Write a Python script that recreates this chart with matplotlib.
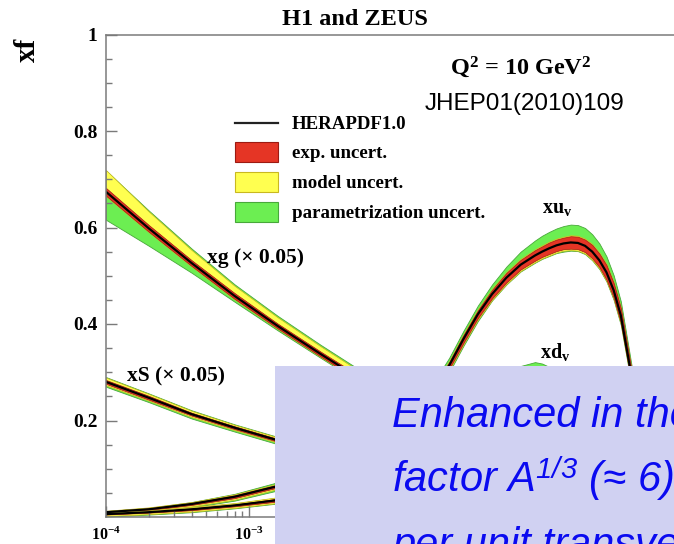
import numpy as np
import matplotlib
matplotlib.use("Agg")
import matplotlib.pyplot as plt
from matplotlib.patches import Rectangle
from matplotlib.lines import Line2D

plt.rcParams["mathtext.fontset"] = "custom"
plt.rcParams["mathtext.rm"] = "Liberation Serif:bold"
plt.rcParams["mathtext.bf"] = "Liberation Serif:bold"
plt.rcParams["mathtext.it"] = "Liberation Serif:italic:bold"
plt.rcParams["mathtext.sf"] = "Liberation Sans:italic"

W, H = 674, 544

# ---------------------------------------------------------------- data
# log10(x) grid for the gluon and sea curves
sea_log10_x = [-4.0, -3.7, -3.4, -3.1, -2.8, -2.5, -2.2, -1.9, -1.6, -1.5, -1.4,
               -1.3, -1.2, -1.1, -1.0, -0.9, -0.8, -0.7, -0.6, -0.5, -0.45, -0.4,
               -0.35, -0.3, -0.2, -0.1, 0.0]

# xg (x 0.05)
xg_c = [0.674, 0.598, 0.526, 0.458, 0.396, 0.338, 0.282, 0.228, 0.180, 0.166, 0.152,
        0.138, 0.122, 0.109, 0.096, 0.083, 0.070, 0.059, 0.048, 0.038, 0.034, 0.030,
        0.026, 0.022, 0.015, 0.009, 0.005]
xg_exp = [0.008, 0.007, 0.006, 0.006, 0.005, 0.005, 0.005, 0.005, 0.005, 0.005, 0.005,
          0.005, 0.005, 0.005, 0.005, 0.005, 0.004, 0.004, 0.004, 0.003, 0.003, 0.003,
          0.003, 0.002, 0.002, 0.002, 0.002]
xg_mod_up = [0.045, 0.035, 0.027, 0.021, 0.018, 0.016, 0.015, 0.014, 0.013, 0.013, 0.012,
             0.012, 0.011, 0.011, 0.010, 0.010, 0.009, 0.008, 0.007, 0.006, 0.006, 0.005,
             0.005, 0.004, 0.004, 0.003, 0.003]
xg_mod_dn = [0.009, 0.008, 0.007, 0.007, 0.006, 0.006, 0.006, 0.006, 0.006, 0.006, 0.006,
             0.006, 0.006, 0.006, 0.006, 0.006, 0.005, 0.005, 0.005, 0.004, 0.004, 0.004,
             0.004, 0.003, 0.003, 0.003, 0.003]
xg_par_up = [0.044, 0.037, 0.030, 0.024, 0.021, 0.019, 0.018, 0.017, 0.016, 0.016, 0.015,
             0.015, 0.014, 0.014, 0.013, 0.013, 0.012, 0.011, 0.010, 0.009, 0.009, 0.008,
             0.008, 0.007, 0.007, 0.006, 0.006]
xg_par_dn = [0.058, 0.036, 0.020, 0.012, 0.009, 0.008, 0.008, 0.008, 0.008, 0.008, 0.008,
             0.008, 0.008, 0.008, 0.008, 0.008, 0.007, 0.007, 0.007, 0.006, 0.006, 0.006,
             0.006, 0.005, 0.005, 0.005, 0.005]

# xS (x 0.05)
xs_c = [0.280, 0.247, 0.213, 0.185, 0.159, 0.135, 0.112, 0.092, 0.072, 0.066, 0.060,
        0.054, 0.048, 0.042, 0.037, 0.032, 0.027, 0.022, 0.018, 0.013, 0.011, 0.010,
        0.008, 0.007, 0.004, 0.002, 0.001]
xs_exp = [0.004, 0.004, 0.003, 0.003, 0.003, 0.003, 0.003, 0.002, 0.002, 0.002, 0.002,
          0.002, 0.002, 0.002, 0.002, 0.002, 0.002, 0.001, 0.001, 0.001, 0.001, 0.001,
          0.001, 0.001, 0.001, 0.001, 0.001]
xs_mod_up = [0.009, 0.008, 0.007, 0.006, 0.006, 0.005, 0.005, 0.004, 0.004, 0.004, 0.004,
             0.003, 0.003, 0.003, 0.003, 0.003, 0.003, 0.002, 0.002, 0.002, 0.002, 0.002,
             0.002, 0.002, 0.001, 0.001, 0.001]
xs_mod_dn = [0.007, 0.006, 0.006, 0.005, 0.005, 0.004, 0.004, 0.004, 0.003, 0.003, 0.003,
             0.003, 0.003, 0.003, 0.003, 0.002, 0.002, 0.002, 0.002, 0.002, 0.002, 0.002,
             0.002, 0.001, 0.001, 0.001, 0.001]
xs_par_up = [0.010, 0.009, 0.008, 0.007, 0.007, 0.006, 0.006, 0.005, 0.005, 0.005, 0.005,
             0.004, 0.004, 0.004, 0.004, 0.004, 0.004, 0.003, 0.003, 0.003, 0.003, 0.003,
             0.003, 0.003, 0.002, 0.002, 0.002]
xs_par_dn = [0.010, 0.009, 0.009, 0.008, 0.008, 0.007, 0.007, 0.007, 0.006, 0.006, 0.006,
             0.006, 0.006, 0.006, 0.006, 0.005, 0.005, 0.005, 0.005, 0.005, 0.005, 0.005,
             0.005, 0.004, 0.004, 0.004, 0.004]

# log10(x) grid for the valence curves
val_log10_x = [-4.0, -3.7, -3.4, -3.1, -2.8, -2.5, -2.2, -1.9, -1.7, -1.6, -1.5, -1.4,
               -1.3, -1.2, -1.1, -1.0, -0.95, -0.9, -0.85, -0.8, -0.75, -0.7, -0.65,
               -0.6, -0.55, -0.5, -0.45, -0.4, -0.35, -0.3, -0.25, -0.2, -0.1, 0.0]

# xu_v
xu_c = [0.010, 0.016, 0.027, 0.042, 0.064, 0.096, 0.144, 0.213, 0.268, 0.314, 0.369, 0.420,
        0.462, 0.496, 0.523, 0.542, 0.550, 0.557, 0.563, 0.567, 0.569, 0.568, 0.562,
        0.550, 0.532, 0.507, 0.470, 0.418, 0.334, 0.250, 0.180, 0.120, 0.045, 0.000]
xu_exp = [0.001, 0.002, 0.002, 0.003, 0.003, 0.004, 0.005, 0.006, 0.007, 0.007, 0.008, 0.008,
          0.009, 0.010, 0.010, 0.011, 0.011, 0.012, 0.012, 0.012, 0.013, 0.013, 0.013,
          0.014, 0.014, 0.015, 0.015, 0.015, 0.014, 0.012, 0.010, 0.008, 0.004, 0.001]
xu_mod_up = [0.003, 0.004, 0.004, 0.005, 0.005, 0.006, 0.007, 0.008, 0.009, 0.009, 0.010, 0.010,
             0.011, 0.012, 0.012, 0.013, 0.013, 0.014, 0.014, 0.014, 0.015, 0.015, 0.015,
             0.016, 0.016, 0.017, 0.017, 0.017, 0.016, 0.014, 0.012, 0.010, 0.006, 0.003]
xu_mod_dn = [0.004, 0.005, 0.005, 0.006, 0.006, 0.007, 0.008, 0.009, 0.010, 0.010, 0.011, 0.011,
             0.012, 0.013, 0.013, 0.014, 0.014, 0.015, 0.015, 0.015, 0.016, 0.016, 0.016,
             0.017, 0.017, 0.018, 0.018, 0.018, 0.017, 0.015, 0.013, 0.011, 0.007, 0.004]
xu_par_up = [0.002, 0.003, 0.004, 0.006, 0.008, 0.010, 0.012, 0.014, 0.015, 0.016, 0.017, 0.018,
             0.020, 0.023, 0.027, 0.031, 0.033, 0.034, 0.035, 0.036, 0.037, 0.037, 0.037,
             0.036, 0.035, 0.033, 0.031, 0.029, 0.025, 0.020, 0.016, 0.012, 0.006, 0.002]
xu_par_dn = [0.005, 0.006, 0.007, 0.008, 0.009, 0.011, 0.012, 0.013, 0.014, 0.014, 0.014, 0.014,
             0.013, 0.014, 0.014, 0.015, 0.015, 0.016, 0.016, 0.017, 0.017, 0.017, 0.017,
             0.018, 0.018, 0.019, 0.020, 0.020, 0.019, 0.016, 0.014, 0.012, 0.008, 0.004]

# xd_v
xd_c = [0.006, 0.010, 0.016, 0.024, 0.035, 0.051, 0.073, 0.104, 0.132, 0.150, 0.170, 0.195,
        0.224, 0.250, 0.268, 0.278, 0.280, 0.278, 0.273, 0.264, 0.255, 0.245, 0.232,
        0.215, 0.196, 0.175, 0.152, 0.128, 0.104, 0.082, 0.062, 0.045, 0.016, 0.000]
xd_exp = [0.001, 0.001, 0.002, 0.002, 0.003, 0.004, 0.005, 0.006, 0.007, 0.008, 0.009, 0.010,
          0.011, 0.012, 0.013, 0.014, 0.014, 0.014, 0.014, 0.014, 0.014, 0.014, 0.013,
          0.013, 0.013, 0.012, 0.011, 0.010, 0.009, 0.008, 0.007, 0.006, 0.003, 0.001]
xd_mod_up = [0.004, 0.004, 0.005, 0.005, 0.006, 0.007, 0.008, 0.009, 0.010, 0.011, 0.012, 0.013,
             0.014, 0.015, 0.016, 0.017, 0.017, 0.017, 0.017, 0.017, 0.017, 0.017, 0.016,
             0.016, 0.016, 0.015, 0.014, 0.013, 0.012, 0.011, 0.010, 0.009, 0.006, 0.004]
xd_mod_dn = [0.004, 0.004, 0.005, 0.005, 0.006, 0.007, 0.008, 0.009, 0.010, 0.011, 0.012, 0.013,
             0.014, 0.015, 0.016, 0.017, 0.017, 0.017, 0.017, 0.017, 0.017, 0.017, 0.016,
             0.016, 0.016, 0.015, 0.014, 0.013, 0.012, 0.011, 0.010, 0.009, 0.006, 0.004]
xd_par_up = [0.002, 0.003, 0.003, 0.004, 0.005, 0.007, 0.009, 0.012, 0.014, 0.016, 0.019, 0.023,
             0.028, 0.034, 0.045, 0.043, 0.038, 0.033, 0.031, 0.030, 0.029, 0.028, 0.026,
             0.024, 0.022, 0.020, 0.018, 0.016, 0.014, 0.012, 0.010, 0.008, 0.004, 0.002]
xd_par_dn = [0.005, 0.005, 0.006, 0.006, 0.007, 0.008, 0.009, 0.010, 0.011, 0.012, 0.013, 0.014,
             0.015, 0.016, 0.017, 0.018, 0.018, 0.018, 0.018, 0.018, 0.018, 0.018, 0.017,
             0.017, 0.017, 0.016, 0.015, 0.014, 0.013, 0.012, 0.011, 0.010, 0.007, 0.005]

y_ticks = [0.2, 0.4, 0.6, 0.8, 1.0]
y_tick_labels = ["0.2", "0.4", "0.6", "0.8", "1"]
x_ticks = [1e-4, 1e-3, 1e-2, 1e-1, 1.0]
x_tick_labels = [r"10$^{-4}$", r"10$^{-3}$", "", "", ""]

legend_labels = ["HERAPDF1.0", "exp. uncert.", "model uncert.", "parametrization uncert."]

# ---------------------------------------------------------------- style
GREEN, GREEN_E = "#6cee52", "#48a83a"
YELLOW, YELLOW_E = "#ffff50", "#c9b820"
RED, RED_E = "#e53525", "#9c1a12"
SERIF = "Liberation Serif"
SANS = "Liberation Sans"
AX_GREY = "#7a7a7a"


def fpos(px, py):
    """pixel position -> figure fraction"""
    return px / W, 1 - py / H


fig = plt.figure(figsize=(W / 100, H / 100), dpi=100)
l, b = fpos(106, 517)
r, t = fpos(678, 34.5)
ax = fig.add_axes([l, b, r - l, t - b])

sea_x = 10.0 ** np.array(sea_log10_x)
val_x = 10.0 ** np.array(val_log10_x)

pdfs = [
    (sea_x, xg_c, xg_exp, xg_mod_up, xg_mod_dn, xg_par_up, xg_par_dn),
    (sea_x, xs_c, xs_exp, xs_mod_up, xs_mod_dn, xs_par_up, xs_par_dn),
    (val_x, xu_c, xu_exp, xu_mod_up, xu_mod_dn, xu_par_up, xu_par_dn),
    (val_x, xd_c, xd_exp, xd_mod_up, xd_mod_dn, xd_par_up, xd_par_dn),
]
for x, c, e, mu, md, pu, pdn in pdfs:
    c, e, mu, md, pu, pdn = map(np.array, (c, e, mu, md, pu, pdn))
    ax.fill_between(x, c - pdn, c + pu, facecolor=GREEN, edgecolor=GREEN_E, lw=0.6)
    ax.fill_between(x, c - md, c + mu, facecolor=YELLOW, edgecolor=YELLOW_E, lw=0.5)
    ax.fill_between(x, c - e, c + e, facecolor=RED, edgecolor=RED_E, lw=0.5)
    ax.plot(x, c, color="black", lw=1.6, solid_capstyle="butt")

ax.set_xscale("log")
ax.set_xlim(1e-4, 1.0)
ax.set_ylim(0, 1)

ax.set_yticks(y_ticks)
ax.set_yticklabels(y_tick_labels, fontfamily=SERIF, fontweight="bold", fontsize=14)
ax.set_yticks(np.arange(0.05, 1.0, 0.05), minor=True)
ax.set_xticks(x_ticks)
ax.set_xticklabels(x_tick_labels, fontfamily=SERIF, fontweight="bold", fontsize=11.5)
ax.tick_params(which="both", direction="in", color=AX_GREY, width=1,
               top=False, right=False)
ax.tick_params(which="major", length=8)
ax.tick_params(which="minor", length=4)
ax.tick_params(axis="y", pad=6)
ax.tick_params(axis="x", pad=7)
for s in ax.spines.values():
    s.set_color(AX_GREY)
    s.set_linewidth(1.1)

# titles and annotations
fig.text(*fpos(355, 25), "H1 and ZEUS", ha="center", va="baseline",
         family=SERIF, weight="bold", fontsize=17.5)
fig.text(*fpos(27, 50), "xf", ha="center", va="center", rotation=90,
         family=SERIF, weight="bold", fontsize=21)
fig.text(*fpos(521, 74), r"Q$^{2}$ = 10 GeV$^{2}$", ha="center", va="baseline",
         family=SERIF, weight="bold", fontsize=17.5)
fig.text(*fpos(525, 110), "JHEP01(2010)109", ha="center", va="baseline",
         family=SANS, fontsize=17.5)
fig.text(*fpos(207, 263), "xg (\u00d7 0.05)", ha="left", va="baseline",
         family=SERIF, weight="bold", fontsize=15.5)
fig.text(*fpos(127, 381), "xS (\u00d7 0.05)", ha="left", va="baseline",
         family=SERIF, weight="bold", fontsize=15.5)
fig.text(*fpos(542, 213), r"xu$_{\mathrm{v}}$", ha="left", va="baseline",
         family=SERIF, weight="bold", fontsize=14.5)
fig.text(*fpos(540, 358), r"xd$_{\mathrm{v}}$", ha="left", va="baseline",
         family=SERIF, weight="bold", fontsize=14.5)

# legend
lx0, lx1 = 235, 278
fig.add_artist(Line2D([lx0 / W, lx1 / W], [1 - 123 / H] * 2, color="#222222",
                      lw=1.6, transform=fig.transFigure))
boxes = [(142, RED, RED_E), (172, YELLOW, YELLOW_E), (202, GREEN, GREEN_E)]
for top, fc, ec in boxes:
    x0, y0 = fpos(lx0, top + 20)
    fig.add_artist(Rectangle((x0, y0), (lx1 - lx0) / W, 20 / H, facecolor=fc,
                             edgecolor=ec, lw=0.8, transform=fig.transFigure))
for lab, base in zip(legend_labels, [129, 158, 188, 218]):
    fig.text(*fpos(292, base), lab, ha="left", va="baseline",
             family=SERIF, weight="bold", fontsize=13.6)

# highlighted note panel
bx, by = fpos(275, 544)
fig.add_artist(Rectangle((bx, by), 1.2, (544 - 366) / H, facecolor="#d0d1f2",
                         edgecolor="none", transform=fig.transFigure, zorder=10))
note_lines = ["Enhanced in the nucleus by a",
              "factor A$^{\\mathsf{1/3}}$ (\u2248 6) for Pb,",
              "per unit transverse area"]
for line, base in zip(note_lines, [427, 492, 557]):
    fig.text(*fpos(392, base), line, ha="left", va="baseline", family=SANS,
             style="italic", fontsize=30, color="#0a0af0", zorder=11)

fig.savefig("out.png", dpi=100)
